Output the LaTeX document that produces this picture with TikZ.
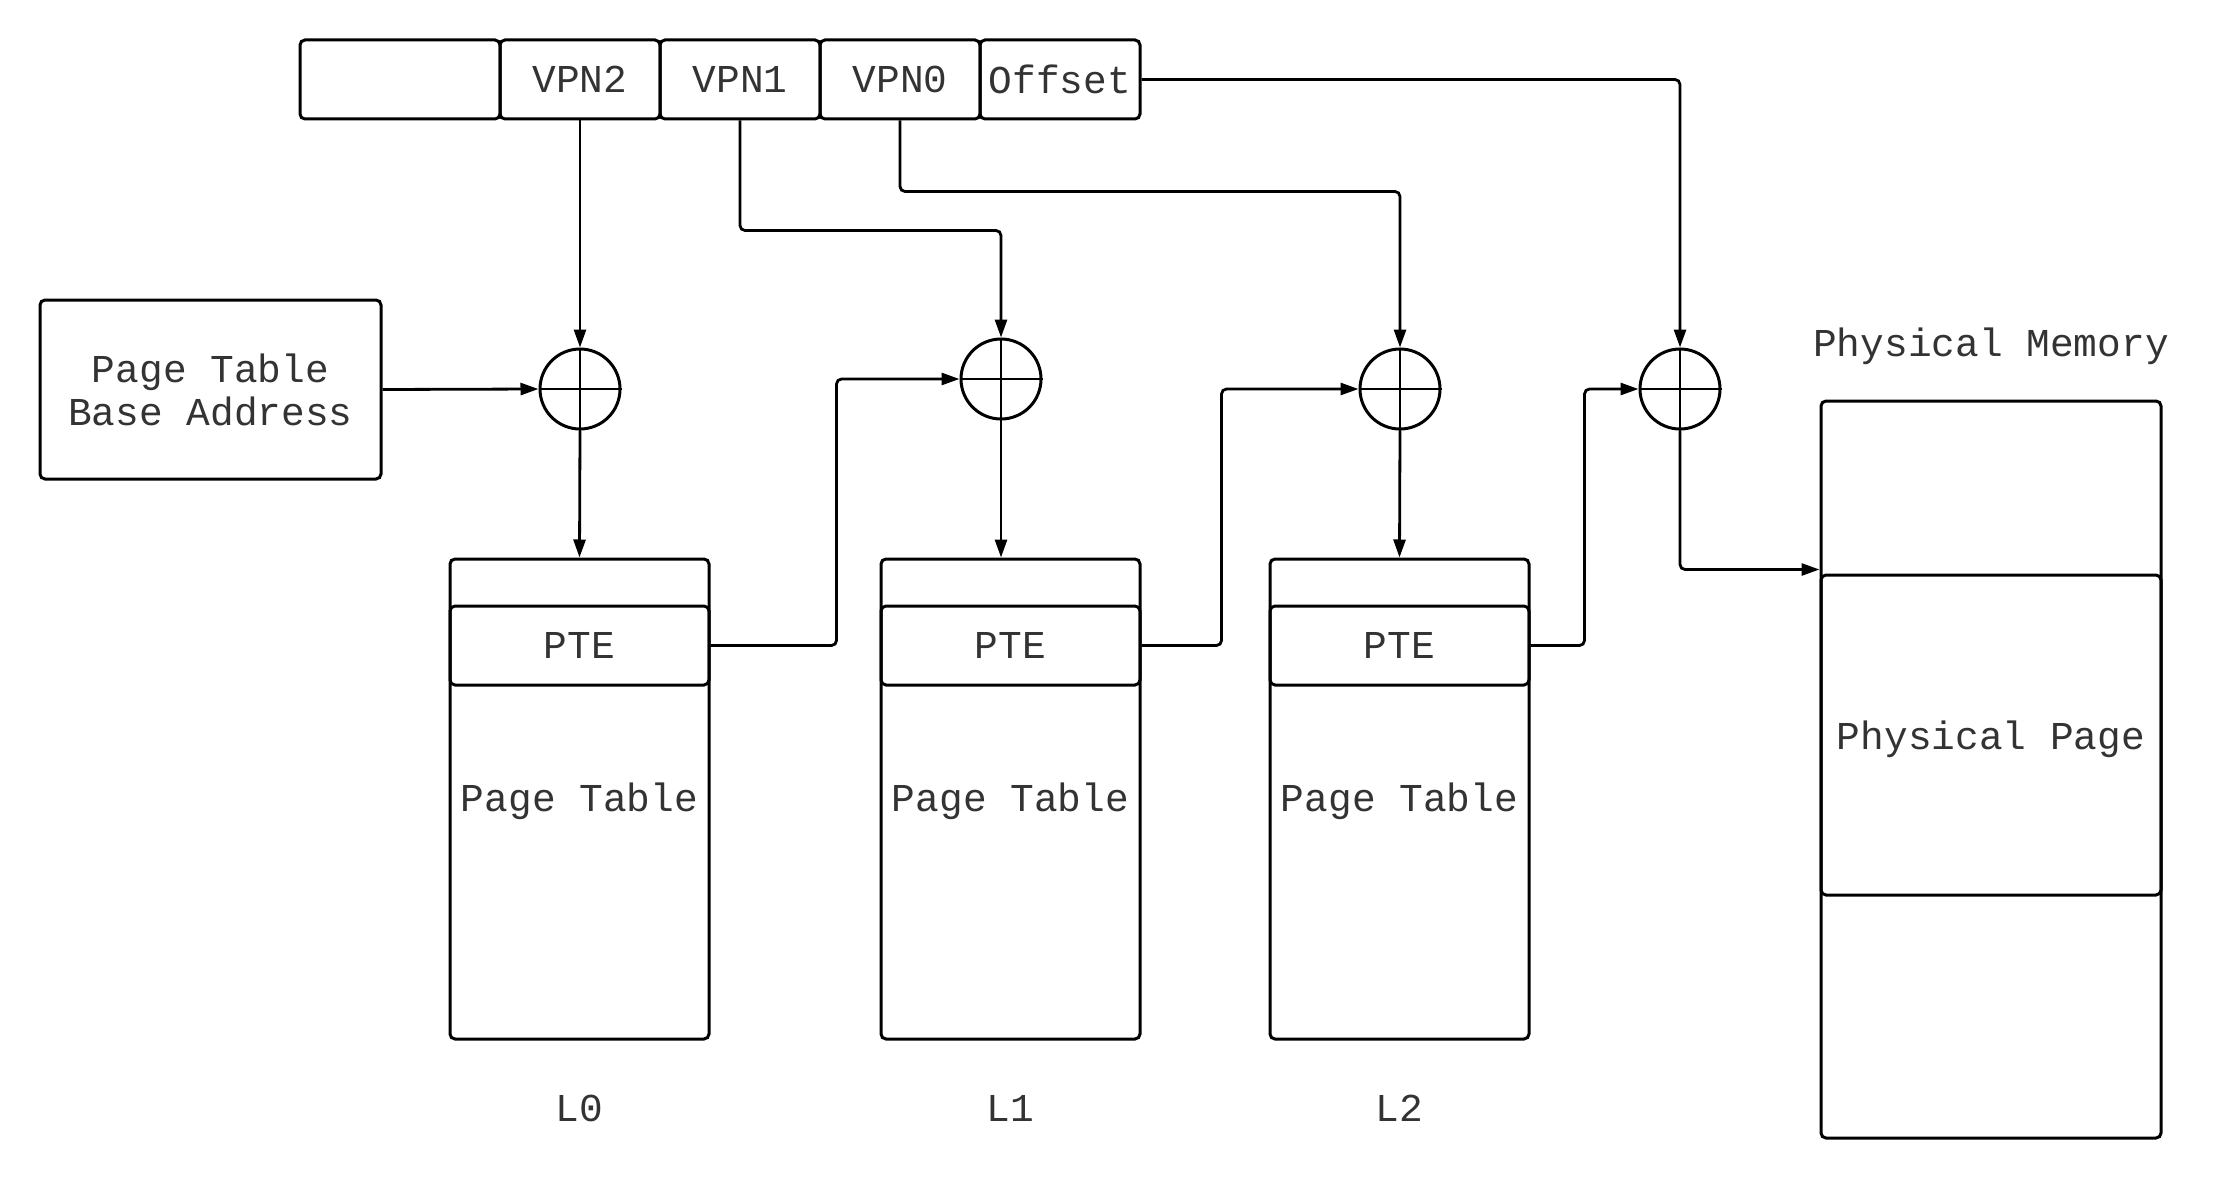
\documentclass[tikz,border=0pt]{standalone}
\usepackage{fontspec}
\setmainfont{Liberation Mono}
\usetikzlibrary{arrows.meta,calc}
\definecolor{txt}{HTML}{333333}
\begin{document}
\begin{tikzpicture}[x=1pt,y=-1pt,
  every node/.style={font=\fontsize{39.5}{43}\selectfont, text=txt, inner sep=0pt},
  cell/.style={draw=black, line width=3pt, rounded corners=5pt, minimum height=79pt},
  sumnode/.style={draw=black, line width=3pt, circle, minimum size=80pt},
  arr/.style={draw=black, line width=2.8pt, rounded corners=5pt, -{Triangle[length=18pt,width=12pt]}},
  conn/.style={draw=black, line width=2.8pt, rounded corners=5pt}]
\useasboundingbox (0,0) rectangle (2220,1180);
\fill[white] (0,0) rectangle (2220,1180);

% virtual address
\node[cell, minimum width=200pt] (blank) at (400,79.5) {};
\node[cell, minimum width=160pt] (vpn2) at (580,79.5) {VPN2};
\node[cell, minimum width=160pt] (vpn1) at (740,79.5) {VPN1};
\node[cell, minimum width=160pt] (vpn0) at (900,79.5) {VPN0};
\node[cell, minimum width=160pt] (off) at (1060,79.5) {Offset};

% base address
\node[cell, minimum width=341pt, minimum height=179pt, align=center] (base) at (210.5,389.5) {Page Table\\Base Address};

% adders
\foreach \n/\x/\y in {c0/580/389, c1/1001/379, c2/1400/389, c3/1680/389}{
  \node[sumnode] (\n) at (\x,\y) {};
  \draw[line width=2.4pt] (\n.north) -- (\n.south) (\n.west) -- (\n.east);
}

% page tables
\foreach \i/\x/\lab in {0/579.5/L0, 1/1010.5/L1, 2/1399.5/L2}{
  \node[cell, minimum width=259pt, minimum height=480pt] (t\i) at (\x,799) {};
  \node[cell, minimum width=259pt, minimum height=79pt] (p\i) at (\x,645.5) {PTE};
  \node (pt\i) at (\x,801) {Page Table};
  \node (l\i) at (\x,1108) {\lab};
}

% physical memory
\node[cell, minimum width=340pt, minimum height=737pt] (pm) at (1991,769.5) {};
\node[cell, minimum width=340pt, minimum height=320pt] (pp) at (1991,735) {};
\node (pplab) at (1991,739) {Physical Page};
\node (pmlab) at (1991,346) {Physical Memory};

% connectors
\draw[arr] (vpn2.south) -- (c0.north);
\draw[arr] (vpn1.south) -- ++(0,110) -| (c1.north);
\draw[arr] (vpn0.south) -- ++(0,71) -| (c2.north);
\draw[arr] (off.east) -| (c3.north);
\draw[arr] (base.east) -- (c0.west);
\draw[arr] (c0.south) -- (t0.north);
\draw[arr] (c1.south) -- (c1.south |- t1.north);
\draw[arr] (c2.south) -- (t2.north);
\draw[arr] (p0.east) -- ++(126,0) |- (c1.west);
\draw[arr] (p1.east) -- ++(80,0) |- (c2.west);
\draw[arr] (p2.east) -- ++(54,0) |- (c3.west);
\draw[arr] (c3.south) |- ([yshift=-170pt]pm.north west);
\end{tikzpicture}
\end{document}
